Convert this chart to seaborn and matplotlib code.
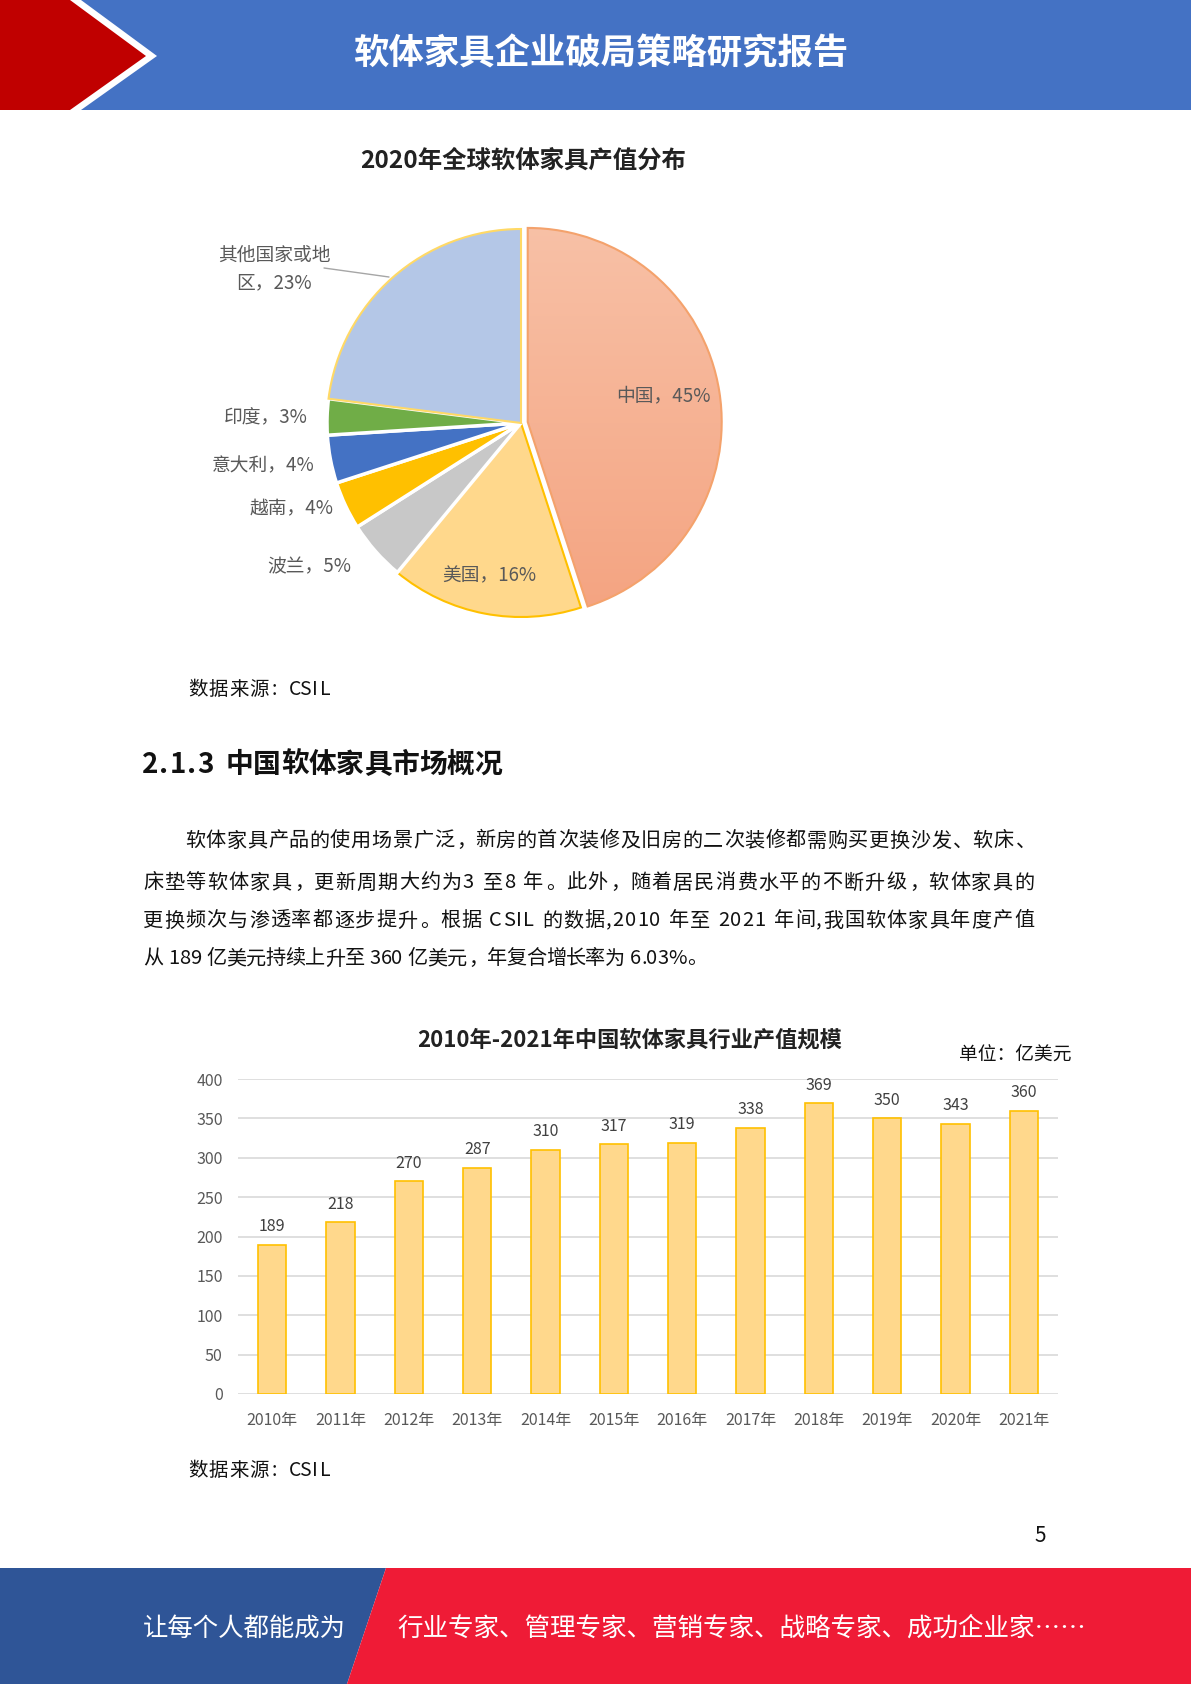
import matplotlib
matplotlib.use("Agg")
import numpy as np
import matplotlib.pyplot as plt
import seaborn as sns
from matplotlib.patches import Polygon
from matplotlib.colors import LinearSegmentedColormap
from matplotlib.font_manager import FontProperties

# pie: 2020 global soft furniture output share
pie_names = ["中国", "美国", "波兰", "越南", "意大利", "印度", "其他国家或地区"]
pie_shares = [45, 16, 5, 4, 4, 3, 23]

# bars: China soft furniture output, 100M USD
years = ["2010年", "2011年", "2012年", "2013年", "2014年", "2015年",
         "2016年", "2017年", "2018年", "2019年", "2020年", "2021年"]
output = [189, 218, 270, 287, 310, 317, 319, 338, 369, 350, 343, 360]
y_ticks = [0, 50, 100, 150, 200, 250, 300, 350, 400]

paragraph = [
    "软体家具产品的使用场景广泛，新房的首次装修及旧房的二次装修都需购买更换沙发、软床、",
    "床垫等软体家具，更新周期大约为3 至8 年。此外，随着居民消费水平的不断升级，软体家具的",
    "更换频次与渗透率都逐步提升。根据 CSIL 的数据,2010 年至 2021 年间,我国软体家具年度产值",
    "从 189 亿美元持续上升至 360 亿美元，年复合增长率为 6.03%。",
]

W, H = 1191, 1684
FONTS = ["Noto Sans CJK SC", "DejaVu Sans"]
sns.set_theme(style="white")
plt.rcParams["font.family"] = FONTS

fig = plt.figure(figsize=(W / 100, H / 100), dpi=100)
renderer = fig.canvas.get_renderer()


def fx(x):
    return x / W


def fy(y):
    return 1 - y / H


def poly(points, color):
    fig.patches.append(Polygon([(fx(x), fy(y)) for x, y in points], closed=True,
                               transform=fig.transFigure, facecolor=color,
                               edgecolor="none", zorder=0))


def text(x, y, s, **kw):
    kw.setdefault("va", "center")
    fig.text(fx(x), fy(y), s, **kw)


def fixed_line(s, x0, y, em, size, **kw):
    # monospace-ish layout: CJK full width, ascii half width
    x = x0
    for c in s:
        w = 0.5 if ord(c) < 128 else 1.0
        if c != " ":
            text(x + w * em / 2, y, c, ha="center", fontsize=size, **kw)
        x += w * em


def advance(c, prop):
    if c == " ":
        return prop.get_size_in_points() * 100 / 72 * 0.3
    base = renderer.get_text_width_height_descent("xx", prop, False)[0]
    return renderer.get_text_width_height_descent("x" + c + "x", prop, False)[0] - base


def justified_line(s, x0, x1, y, size):
    prop = FontProperties(family=FONTS, size=size)
    advs = [advance(c, prop) for c in s]
    extra = (x1 - x0 - sum(advs)) / (len(s) - 1)
    x = x0
    for c, a in zip(s, advs):
        if c in "，。、":
            text(x + a * 0.08, y, c, ha="left", fontsize=size, color="#111111")
        elif c != " ":
            text(x + a / 2, y, c, ha="center", fontsize=size, color="#111111")
        x += a + extra


# header
poly([(0, 0), (70, 0), (146, 56), (70, 110), (0, 110)], "#C00000")
poly([(81, 0), (W, 0), (W, 110), (81, 110), (157, 56)], "#4472C4")
text(601, 54, "软体家具企业破局策略研究报告", ha="center", fontsize=25.5,
     fontweight="bold", color="white")

# footer
poly([(0, 1568), (386, 1568), (347, H), (0, H)], "#2F5597")
poly([(386, 1568), (W, 1568), (W, H), (347, H)], "#EF1B36")
text(143, 1629, "让每个人都能成为", fontsize=18.3, color="white")
text(397, 1629, "行业专家、管理专家、营销专家、战略专家、成功企业家……",
     fontsize=18.4, color="white")

# ---- pie chart ----
cx, cy, R = 521, 423, 194
half = 220
ax_pie = fig.add_axes([fx(cx - half), fy(cy + half), 2 * half / W, 2 * half / H])
pie_colors = ["#F6B092", "#FFD88C", "#C8C8C8", "#FFC000", "#4472C4", "#70AD47", "#B4C7E7"]
pie_edges = ["#F4A26C", "#FFC000", "white", "white", "white", "white", "#FFD966"]
pie_explode = [0.035, 0, 0, 0, 0, 0, 0]
wedges, _ = ax_pie.pie(pie_shares, startangle=90, counterclock=False,
                       colors=pie_colors, explode=pie_explode,
                       wedgeprops=dict(linewidth=1.5))
for w, ec in zip(wedges, pie_edges):
    w.set_edgecolor(ec)
    if ec == "white":
        w.set_linewidth(2.5)
lim = half / R
ax_pie.set_xlim(-lim, lim)
ax_pie.set_ylim(-lim, lim)
ax_pie.axis("off")

# soft gradient on the China slice
grad = LinearSegmentedColormap.from_list("cn", ["#F4A27F", "#F8C2A8"])
im = ax_pie.imshow(np.linspace(0, 1, 256).reshape(-1, 1), cmap=grad, origin="lower",
                   extent=(-1.1, 1.1, -1.1, 1.1), aspect="auto", zorder=0.5)
im.set_clip_path(wedges[0])
wedges[0].set_facecolor("none")
wedges[0].set_zorder(1)

label_xy = [(663, 396), (489, 576), (309, 567), (292, 509), (263, 466), (266, 418), (274, 269)]
for name, share, (lx, ly) in zip(pie_names, pie_shares, label_xy):
    if len(name) > 6:
        name = name[:6] + "\n" + name[6:]
    text(lx, ly, f"{name}，{share}%", ha="center", fontsize=13.5,
         color="#595959", linespacing=1.45)
fig.lines.append(plt.Line2D([fx(324), fx(389)], [fy(268), fy(277)],
                            transform=fig.transFigure, color="#A6A6A6", lw=1))

text(523, 161, "2020年全球软体家具产值分布", ha="center", fontsize=17.6,
     fontweight="bold", color="#222222")
fixed_line("数据来源: CSIL", 188, 690, 20.3, 14, color="#111111")

# ---- section text ----
fixed_line("2.1.3 中国软体家具市场概况", 143, 765, 27.6, 20, fontweight="bold",
           color="#111111")
line_y = [841, 883, 921, 959]
line_x = [(185, 1034), (143, 1034), (143, 1034), (143, 706)]
for s, y, (x0, x1) in zip(paragraph, line_y, line_x):
    justified_line(s, x0, x1, y, 14.5)

# ---- bar chart ----
top, bottom, left, right = 1079, 1394, 238, 1058
ax = fig.add_axes([fx(left), fy(bottom), (right - left) / W, (bottom - top) / H])
sns.barplot(x=years, y=output, color="#FFD88C", edgecolor="#FFC000", linewidth=1.2,
            width=0.41, saturation=1, ax=ax)
ax.set_ylim(0, 400)
ax.set_xlim(-0.5, len(years) - 0.5)
ax.set_yticks(y_ticks)
ax.grid(axis="y", color="#D9D9D9", lw=1.2)
ax.set_axisbelow(True)
for sp in ax.spines.values():
    sp.set_visible(False)
ax.tick_params(length=0, labelsize=11.5, labelcolor="#595959")
ax.tick_params(axis="y", pad=11)
ax.tick_params(axis="x", pad=13)
ax.set_xlabel("")
ax.set_ylabel("")
ax.bar_label(ax.containers[0], padding=7, fontsize=11.5, color="#404040")

text(630, 1040, "2010年-2021年中国软体家具行业产值规模", ha="center", fontsize=16,
     fontweight="bold", color="#222222")
text(1015, 1055, "单位：亿美元", ha="center", fontsize=13.5, color="#111111")
fixed_line("数据来源: CSIL", 188, 1471, 20.3, 14, color="#111111")
text(1040, 1536, "5", ha="center", fontsize=15, color="#111111")

fig.savefig("out.png", dpi=100)
